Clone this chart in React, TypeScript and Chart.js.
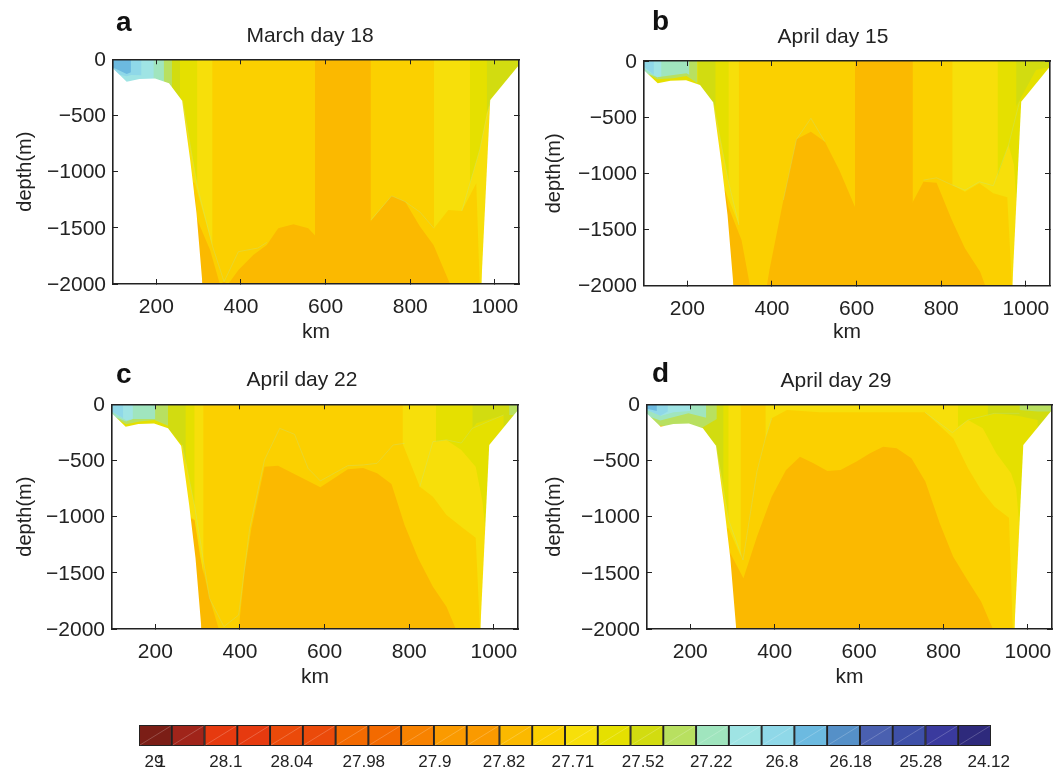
import React, { useEffect, useRef } from "react";
import { Chart, registerables } from "chart.js";

Chart.register(...registerables);

type Pt = [number, number];
type Layer = [string, Pt[]];

const FONT = "'Liberation Sans', Arial, sans-serif";
const INK = "#222222";
const SEAM = "rgba(170,230,190,0.4)";

const ORANGE = "#FBB900";
const GOLD = "#FBD000";
const YELLOW = "#F7DF0A";
const LEMON = "#E5E000";
const OLIVE = "#D2DC10";
const LIME = "#B8E060";
const MINT = "#A0E5BE";
const AQUA = "#9FE4E4";
const SKY = "#8FD8E8";
const BLUE = "#6CBAE0";

const kmTicks = [200, 400, 600, 800, 1000];
const depthTicks = [-2000, -1500, -1000, -500, 0];

const seabedLeft: Pt[] = [[97, -80], [130, -199], [160, -175], [197, -172], [230, -214], [261, -368], [280, -896], [295, -1371], [309, -2000]];
const seabedRight: Pt[] = [[968, -2000], [989, -362], [1057, -50], [1060, -40]];
const basin: Pt[] = [[97, 0], [97, -2000], [1058, -2000], [1058, 0]];

const marchLayers: Layer[] = [
  [ORANGE, basin],
  [GOLD, [[200, 0], [200, -1000], [291, -1193], [297, -1430], [327, -1697], [350, -2000], [360, -1979], [370, -2000], [394, -1875], [429, -1742], [461, -1653], [488, -1504], [524, -1469], [559, -1504], [587, -1614], [626, -1638], [658, -1608], [689, -1519], [709, -1430], [756, -1216], [788, -1267], [823, -1489], [855, -1653], [894, -2000], [1058, -2000], [1058, 0]]],
  [ORANGE, [[575, 0], [575, -2000], [707, -2000], [707, 0]]],
  [YELLOW, [[856, 0], [856, -1504], [890, -1341], [922, -1350], [956, -1104], [964, -2000], [1058, -2000], [1058, 0]]],
  [LEMON, [[941, 0], [941, -1104], [964, -807], [981, -480], [992, -347], [1058, -347], [1058, 0]]],
  [OLIVE, [[981, 0], [981, -480], [992, -347], [1058, -50], [1058, 0]]],
  [YELLOW, [[250, 0], [250, -1000], [291, -1104], [333, -1667], [333, 0]]],
  [LEMON, [[200, 0], [200, -600], [262, -362], [297, -1133], [297, 0]]],
  [OLIVE, [[150, 0], [150, -600], [230, -214], [256, -362], [256, 0]]],
  [LIME, [[150, 0], [150, -400], [237, -400], [237, 0]]],
  [MINT, [[97, 0], [97, -400], [218, -400], [218, 0]]],
  [AQUA, [[97, 0], [97, -400], [194, -400], [194, 0]]],
  [SKY, [[97, 0], [97, -125], [130, -150], [140, -140], [165, -142], [165, 0]]],
  [BLUE, [[97, 0], [97, -71], [130, -130], [140, -116], [140, 0]]],
];
const marchSeams: Pt[][] = [
  [[262, -368], [297, -1133], [333, -1667], [360, -1979], [394, -1712], [440, -1680], [461, -1630]],
  [[707, -1430], [756, -1216], [788, -1267], [823, -1360], [856, -1504]],
  [[922, -1350], [941, -1104], [964, -807], [989, -362]],
];

const april15Layers: Layer[] = [
  [ORANGE, basin],
  [GOLD, [[200, 0], [200, -1000], [289, -1148], [297, -1297], [328, -1593], [348, -2000], [388, -2000], [394, -1860], [427, -1237], [458, -697], [492, -629], [525, -718], [559, -970], [596, -1297], [624, -1519], [657, -1653], [691, -1593], [733, -1252], [758, -1074], [789, -1083], [825, -1415], [856, -1667], [892, -1875], [904, -2000], [1058, -2000], [1058, 0]]],
  [ORANGE, [[596, 0], [596, -2000], [733, -2000], [733, 0]]],
  [YELLOW, [[826, 0], [826, -1104], [856, -1163], [890, -1089], [923, -1178], [956, -1213], [967, -2000], [1058, -2000], [1058, 0]]],
  [LEMON, [[933, 0], [933, -1030], [959, -748], [972, -926], [977, -1237], [1058, -1237], [1058, 0]]],
  [OLIVE, [[977, 0], [977, -406], [994, -288], [1024, -80], [1058, -50], [1058, 0]]],
  [YELLOW, [[250, 0], [250, -1000], [289, -1148], [322, -1460], [322, 0]]],
  [LEMON, [[200, 0], [200, -700], [261, -362], [298, -1089], [298, 0]]],
  [OLIVE, [[150, 0], [150, -600], [228, -214], [267, -406], [267, 0]]],
  [LEMON, [[97, 0], [97, -500], [226, -500], [226, 0]]],
  [LIME, [[97, 0], [97, -100], [129, -163], [167, -154], [198, -134], [224, -199], [224, 0]]],
  [MINT, [[97, 0], [97, -100], [129, -145], [167, -125], [198, -110], [205, -125], [205, 0]]],
  [AQUA, [[97, 0], [97, -65], [129, -145], [139, -135], [139, 0]]],
  [SKY, [[97, 0], [97, -50], [121, -125], [121, 0]]],
];
const april15Seams: Pt[][] = [
  [[261, -362], [298, -1089], [322, -1460]],
  [[427, -1237], [458, -697], [492, -510], [525, -718]],
  [[758, -1060], [789, -1040], [826, -1104], [856, -1150], [890, -1075], [923, -1110], [959, -748], [985, -362]],
];

const april22Layers: Layer[] = [
  [ORANGE, basin],
  [GOLD, [[200, 0], [200, -900], [293, -1030], [305, -1341], [328, -1727], [350, -2000], [397, -2000], [411, -1489], [427, -1104], [458, -555], [490, -546], [590, -739], [655, -579], [691, -567], [724, -614], [758, -709], [789, -1074], [821, -1371], [856, -1623], [888, -1801], [910, -2000], [1058, -2000], [1058, 0]]],
  [YELLOW, [[784, 0], [784, -347], [825, -733], [856, -822], [888, -985], [923, -1089], [957, -1187], [967, -2000], [1058, -2000], [1058, 0]]],
  [LEMON, [[863, 0], [863, -332], [888, -317], [923, -406], [957, -555], [973, -866], [981, -1163], [1058, -1163], [1058, 0]]],
  [OLIVE, [[949, 0], [949, -214], [959, -169], [1023, -95], [1023, -300], [1058, -300], [1058, 0]]],
  [LIME, [[1036, 0], [1036, -95], [1058, -95], [1058, 0]]],
  [YELLOW, [[250, 0], [250, -900], [293, -1030], [314, -1519], [314, 0]]],
  [LEMON, [[200, 0], [200, -600], [264, -362], [293, -911], [293, 0]]],
  [OLIVE, [[150, 0], [150, -600], [230, -214], [264, -362], [272, -540], [272, 0]]],
  [LEMON, [[97, 0], [97, -500], [230, -500], [230, 0]]],
  [LIME, [[97, 0], [97, -100], [131, -178], [163, -154], [198, -139], [230, -190], [230, 0]]],
  [MINT, [[97, 0], [97, -100], [131, -154], [147, -131], [200, -131], [200, 0]]],
  [AQUA, [[97, 0], [97, -65], [131, -142], [147, -131], [147, 0]]],
  [SKY, [[97, 0], [97, -65], [124, -125], [124, 0]]],
];
const april22Seams: Pt[][] = [
  [[264, -362], [293, -911], [328, -1727], [362, -1979], [397, -1875], [423, -1104], [458, -495], [494, -214], [529, -267], [561, -570], [590, -682], [655, -546], [691, -540], [724, -525], [762, -362], [789, -347]],
  [[825, -733], [856, -332], [888, -317], [923, -345], [949, -214], [1023, -95]],
];

const april29Layers: Layer[] = [
  [ORANGE, basin],
  [GOLD, [[200, 0], [200, -900], [291, -1297], [326, -1549], [358, -1178], [393, -822], [427, -585], [460, -466], [492, -525], [525, -593], [556, -585], [594, -510], [626, -436], [657, -377], [689, -392], [724, -481], [757, -688], [791, -1059], [823, -1356], [854, -1549], [889, -1756], [917, -2000], [1058, -2000], [1058, 0]]],
  [YELLOW, [[378, 0], [378, -303], [393, -125], [429, -50], [507, -71], [756, -71], [823, -303], [858, -570], [889, -763], [921, -911], [955, -1009], [964, -2000], [1058, -2000], [1058, 0]]],
  [LEMON, [[834, 0], [834, -199], [858, -139], [893, -214], [925, -436], [960, -614], [972, -748], [980, -1104], [1058, -1104], [1058, 0]]],
  [OLIVE, [[905, 0], [905, -95], [921, -80], [976, -101], [1023, -139], [1023, -300], [1058, -300], [1058, 0]]],
  [LIME, [[980, 0], [980, -50], [1023, -65], [1058, -65], [1058, 0]]],
  [YELLOW, [[250, 0], [250, -1100], [291, -1104], [320, -1356], [320, 0]]],
  [LEMON, [[200, 0], [200, -600], [261, -362], [291, -1030], [291, 0]]],
  [OLIVE, [[150, 0], [150, -600], [225, -300], [261, -362], [279, -718], [279, 0]]],
  [LIME, [[97, 0], [97, -190], [129, -190], [228, -208], [263, -131], [263, 0]]],
  [MINT, [[97, 0], [97, -100], [129, -145], [196, -80], [238, -119], [238, 0]]],
  [AQUA, [[97, 0], [97, -50], [131, -101], [161, -71], [200, -59], [200, 0]]],
  [SKY, [[97, 0], [97, -50], [129, -101], [147, -65], [147, 0]]],
  [BLUE, [[97, 0], [97, -40], [121, -59], [121, 0]]],
];
const april29Seams: Pt[][] = [
  [[261, -362], [291, -1030], [325, -1386], [358, -599], [378, -303], [393, -125]],
  [[756, -71], [821, -252], [858, -139], [921, -80], [980, -80]],
];

const colorbarColors = [
  "#7B1E16", "#A0241A", "#E63A0F", "#E63A0F", "#EB4A0A", "#EB4A0A", "#F36A00", "#F36A00", "#F78200",
  "#FA9A00", "#FA9A00", "#FBB900", "#FBD000", "#F7DF0A", "#E5E000", "#D2DC10", "#B8E060", "#A0E5BE",
  "#9FE4E4", "#8FD8E8", "#6CBAE0", "#5590C8", "#4A60B0", "#3E50A8", "#3A3A9E", "#2E2A7C",
];
const colorbarLabels = ["29", "1", "28.1", "28.04", "27.98", "27.9", "27.82", "27.71", "27.52", "27.22", "26.8", "26.18", "25.28", "24.12"];
const colorbarLabelCells = [0.46, 0.68, 2.65, 4.66, 6.86, 9.03, 11.14, 13.24, 15.38, 17.46, 19.62, 21.72, 23.86, 25.93];

const toXY = (p: Pt[]) => p.map(([x, y]) => ({ x, y }));

function buildPanel(canvas: HTMLCanvasElement, p: any) {
  const painted: any[] = [];
  p.layers.forEach(([color, pts]: Layer) => {
    painted.push({ data: toXY(pts), backgroundColor: color, borderWidth: 0, pointRadius: 0, fill: { value: 0 } });
  });
  p.seams.forEach((pts: Pt[]) => {
    painted.push({ data: toXY(pts), borderColor: SEAM, borderWidth: 0.6, pointRadius: 0, fill: false });
  });
  painted.push({ data: toXY(seabedLeft), backgroundColor: "#ffffff", borderWidth: 0, pointRadius: 0, fill: { value: -2000 } });
  painted.push({ data: toXY(seabedRight), backgroundColor: "#ffffff", borderWidth: 0, pointRadius: 0, fill: { value: -2000 } });
  // Chart.js paints the first dataset last, so the back-to-front list is reversed.
  const datasets = painted.reverse();

  const tickFont = { family: FONT, size: 21 };
  const grid = { drawOnChartArea: false, tickLength: -5, color: INK, lineWidth: 1, z: 2 };
  const border = { color: INK, width: 1.6, z: 2 };
  const setKm = (s: any) => { s.ticks = kmTicks.map((value) => ({ value })); };
  const setDepth = (s: any) => { s.ticks = depthTicks.map((value) => ({ value })); };

  return new Chart(canvas, {
    type: "line",
    data: { datasets },
    options: {
      animation: false,
      responsive: false,
      parsing: false as any,
      normalized: false,
      elements: { line: { tension: 0 } },
      layout: { padding: 0, autoPadding: false },
      plugins: {
        legend: { display: false },
        tooltip: { enabled: false },
        title: {
          display: true,
          text: p.title,
          color: INK,
          font: { family: FONT, size: 21, weight: "normal", lineHeight: 1 },
          padding: { top: p.titleTop, bottom: p.titleBottom },
        },
      },
      scales: {
        x: {
          type: "linear",
          min: 97.6,
          max: 1057,
          afterBuildTicks: setKm,
          afterFit: (s: any) => { s.height = p.xHeight; },
          grid,
          border,
          ticks: { font: tickFont, color: INK, padding: 16, maxRotation: 0, autoSkip: false, callback: (v: any) => String(v) },
          title: { display: true, text: "km", color: INK, font: tickFont, padding: { top: 0, bottom: 0 } },
        },
        y: {
          type: "linear",
          min: -2000,
          max: 0,
          afterBuildTicks: setDepth,
          afterFit: (s: any) => { s.width = p.yWidth; },
          grid,
          border,
          ticks: { font: tickFont, color: INK, padding: 12, labelOffset: 1, autoSkip: false, callback: (v: any) => String(v).replace("-", "\u2212") },
          title: { display: true, text: "depth(m)", color: INK, font: { family: FONT, size: 20 }, padding: { top: p.yTitlePad, bottom: 0 } },
        },
        xTop: {
          type: "linear",
          position: "top",
          min: 97.6,
          max: 1057,
          afterBuildTicks: setKm,
          afterFit: (s: any) => { s.height = 0; },
          grid,
          border,
          ticks: { display: false },
        },
        yRight: {
          type: "linear",
          position: "right",
          min: -2000,
          max: 0,
          afterBuildTicks: setDepth,
          afterFit: (s: any) => { s.width = p.rightPad; },
          grid,
          border,
          ticks: { display: false },
        },
      } as any,
    },
  } as any);
}

const cellDiagonals = {
  id: "cellDiagonals",
  afterDatasetsDraw(chart: any) {
    const ctx = chart.ctx;
    ctx.save();
    ctx.strokeStyle = "rgba(255,255,255,0.3)";
    ctx.lineWidth = 0.7;
    chart.getSortedVisibleDatasetMetas().forEach((m: any) => {
      const b = m.data[0];
      if (!b) return;
      const r = b.getProps(["x", "y", "base", "height"], true);
      ctx.beginPath();
      ctx.moveTo(r.base + 1, r.y + r.height / 2 - 1);
      ctx.lineTo(r.x - 1, r.y - r.height / 2 + 1);
      ctx.stroke();
    });
    ctx.restore();
  },
};

function buildColorbar(canvas: HTMLCanvasElement) {
  return new Chart(canvas, {
    type: "bar",
    data: {
      labels: ["scale"],
      datasets: colorbarColors.map((c) => ({
        data: [1],
        backgroundColor: c,
        borderColor: "#222222",
        borderWidth: 1.3,
        borderSkipped: false,
        categoryPercentage: 1,
        barPercentage: 1,
      })),
    },
    options: {
      animation: false,
      responsive: false,
      indexAxis: "y",
      layout: { padding: { left: 139, right: 73, top: 10, bottom: 0 }, autoPadding: false },
      plugins: { legend: { display: false }, tooltip: { enabled: false } },
      scales: {
        x: {
          type: "linear",
          stacked: true,
          min: 0,
          max: colorbarColors.length,
          afterBuildTicks: (s: any) => { s.ticks = colorbarLabelCells.map((value) => ({ value })); },
          afterFit: (s: any) => { s.height = 25; },
          grid: { display: false, tickLength: 0 },
          border: { display: false },
          ticks: {
            font: { family: FONT, size: 17 },
            color: INK,
            padding: 6,
            autoSkip: false,
            maxRotation: 0,
            callback: (_v: any, i: number) => colorbarLabels[i],
          },
        },
        y: { stacked: true, display: false },
      } as any,
    },
    plugins: [cellDiagonals],
  } as any);
}

const panels = [
  { key: "a", title: "March day 18", layers: marchLayers, seams: marchSeams, left: 0, top: 0, width: 620, yWidth: 113, rightPad: 101, titleTop: 25.5, titleBottom: 12.8, xHeight: 61, yTitlePad: 13, letterX: 116, letterY: 6 },
  { key: "b", title: "April day 15", layers: april15Layers, seams: april15Seams, left: 533, top: 0, width: 600, yWidth: 111, rightPad: 83, titleTop: 26.5, titleBottom: 13.5, xHeight: 59.3, yTitlePad: 9, letterX: 652, letterY: 5 },
  { key: "c", title: "April day 22", layers: april22Layers, seams: april22Seams, left: 0, top: 345, width: 604, yWidth: 112, rightPad: 86, titleTop: 24.5, titleBottom: 13.8, xHeight: 61, yTitlePad: 13, letterX: 116, letterY: 358 },
  { key: "d", title: "April day 29", layers: april29Layers, seams: april29Seams, left: 540, top: 345, width: 592, yWidth: 107, rightPad: 80, titleTop: 25.5, titleBottom: 12.8, xHeight: 61, yTitlePad: 2, letterX: 652, letterY: 357 },
];

const PANEL_H = 345;

export default function App() {
  const refs = useRef<(HTMLCanvasElement | null)[]>([]);
  const barRef = useRef<HTMLCanvasElement | null>(null);

  useEffect(() => {
    const charts: any[] = panels.map((p, i) => buildPanel(refs.current[i]!, p));
    charts.push(buildColorbar(barRef.current!));
    return () => charts.forEach((c) => c.destroy());
  }, []);

  return (
    <div style={{ position: "fixed", left: 0, top: 0, width: 1064, height: 771, overflow: "hidden", background: "#fff" }}>
      {panels.map((p, i) => (
        <canvas
          key={p.key}
          ref={(el) => { refs.current[i] = el; }}
          width={p.width}
          height={PANEL_H}
          style={{ position: "absolute", left: p.left, top: p.top, width: p.width, height: PANEL_H }}
        />
      ))}
      <canvas ref={barRef} width={1064} height={56} style={{ position: "absolute", left: 0, top: 715, width: 1064, height: 56 }} />
      {panels.map((p) => (
        <span
          key={p.key + "-letter"}
          style={{ position: "absolute", left: p.letterX, top: p.letterY, font: `bold 28px ${FONT}`, lineHeight: "32px", color: "#111" }}
        >
          {p.key}
        </span>
      ))}
    </div>
  );
}
